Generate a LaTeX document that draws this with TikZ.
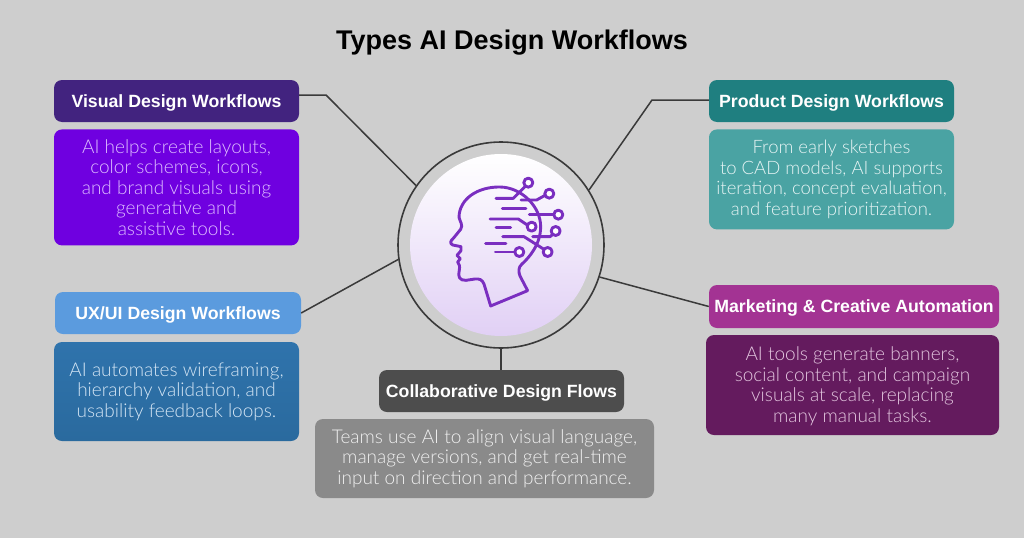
\documentclass[tikz,border=0pt]{standalone}
\usepackage{fontspec}
\usepackage{xcolor}
\setmainfont{Liberation Sans}
\newfontfamily\lightfont{Lato Light}
\usetikzlibrary{arrows.meta,positioning,calc}
\definecolor{pagegray}{HTML}{CECECE}
\definecolor{linegray}{HTML}{3A3A3A}
\definecolor{iconpurple}{HTML}{7A2EC0}
\definecolor{diskpurple}{HTML}{E1D0F5}
\definecolor{visualhead}{HTML}{42237F}
\definecolor{visualbody}{HTML}{6F00E0}
\definecolor{visualtext}{HTML}{DDBDFF}
\definecolor{producthead}{HTML}{1F7F80}
\definecolor{productbody}{HTML}{4AA3A3}
\definecolor{producttext}{HTML}{E6F4F4}
\definecolor{uxhead}{HTML}{5B9BDE}
\definecolor{uxbodytop}{HTML}{2F73AC}
\definecolor{uxbodybot}{HTML}{2A6A9E}
\definecolor{uxtext}{HTML}{D5E6F5}
\definecolor{markethead}{HTML}{A33393}
\definecolor{marketbody}{HTML}{641B5E}
\definecolor{markettext}{HTML}{E3C6DF}
\definecolor{collabhead}{HTML}{4D4D4D}
\definecolor{collabbody}{HTML}{8A8A8A}
\definecolor{collabtext}{HTML}{F0F0F0}
\begin{document}
\begin{tikzpicture}[x=1pt,y=-1pt]
\tikzset{
				headbox/.style={
					rounded corners=8pt,
					text=white,
					minimum height=42pt,
					align=center,
					inner sep=0pt,
					text height=15pt,
					text depth=2.8pt,
					font=\bfseries\fontsize{17.7}{20}\selectfont
				},
				bodybox/.style={
					rounded corners=8pt,
					align=center,
					inner sep=0pt,
					font=\lightfont\fontsize{19}{20.6}\selectfont
				},
				spoke/.style={
					draw=linegray,
					line width=1.5pt
				},
				trace/.style={
					draw=iconpurple,
					line width=2.9pt,
					line cap=round,
					line join=round
				},
				pin/.style={
					trace,
					fill=white
				}
			}
			\useasboundingbox[fill=pagegray] (0,0) rectangle (1024,538);
			\node[font=\bfseries\fontsize{27}{32}\selectfont] (title) at (512,43) {Types AI Design Workflows};
			
			\node[circle,draw=linegray,line width=1.6pt,minimum size=206pt,inner sep=0pt] (hub) at (501,245) {};
			\node[circle,minimum size=182pt,inner sep=0pt,top color=white,bottom color=diskpurple] (disk) at (hub.center) {};
			
			\node[headbox,fill=visualhead,minimum width=245pt] (visual) at (176.5,101) {Visual Design Workflows};
			\node[bodybox,fill=visualbody,text=visualtext,minimum width=245pt,minimum height=116pt,below=7pt of visual] (visualtxt) {AI helps create layouts,\\color schemes, icons,\\and brand visuals using\\generative and\\assistive tools.};
			
			\node[headbox,fill=producthead,minimum width=245pt] (product) at (831.5,101) {Product Design Workflows};
			\node[bodybox,fill=productbody,text=producttext,minimum width=245pt,minimum height=100pt,below=7pt of product,font=\lightfont\fontsize{18.5}{20.6}\selectfont] (producttxt) {From early sketches\\to CAD models, AI supports\\iteration, concept evaluation,\\and feature prioritization.};
			
			\node[headbox,fill=uxhead,minimum width=246pt] (ux) at (178,313) {UX/UI Design Workflows};
			\node[bodybox,top color=uxbodytop,bottom color=uxbodybot,text=uxtext,minimum width=245pt,minimum height=99pt] (uxtxt) at (176.5,391.5) {AI automates wireframing,\\hierarchy validation, and\\usability feedback loops.};
			
			\node[headbox,fill=markethead,minimum width=290pt,minimum height=43pt] (market) at (854,306.5) {Marketing \& Creative Automation};
			\node[bodybox,fill=marketbody,text=markettext,minimum width=293pt,minimum height=100pt,text depth=1pt] (markettxt) at (852.5,385) {AI tools generate banners,\\social content, and campaign\\visuals at scale, replacing\\many manual tasks.};
			
			\node[headbox,fill=collabhead,minimum width=245pt] (collab) at (501.5,391) {Collaborative Design Flows};
			\node[bodybox,fill=collabbody,text=collabtext,minimum width=339pt,minimum height=79pt] (collabtxt) at (484.5,458.5) {Teams use AI to align visual language,\\manage versions, and get real-time\\input on direction and performance.};
			
			\coordinate (visualbend) at (326,95);
			\coordinate (productbend) at (652,100);
			\draw[spoke] ([yshift=6pt]visual.east) -- (visualbend) -- (hub.145);
			\draw[spoke] ([yshift=1pt]product.west) -- (productbend) -- (hub.32);
			\draw[spoke] (ux.east) -- (hub.188);
			\draw[spoke] (market.west) -- (hub.-18);
			\draw[spoke] (hub.south) -- (collab.north -| hub.south);
			
			% head and circuit, in the 3x crop grid
			\begin{scope}[shift={(390,130)},x=0.3333pt,y=-0.3333pt]
			\draw[trace] (413,482) -- (302,528) -- (282,462) .. controls (276,448) and (268,446) .. (255,447) -- (228,451) .. controls (208,452) and (203,440) .. (208,420) .. controls (210,408) and (208,402) .. (203,396) -- (211,386) -- (201,376) -- (213,362) -- (213,350) -- (188,345) .. controls (178,340) and (182,332) .. (190,325) -- (212,298) .. controls (220,285) and (210,275) .. (207,262) .. controls (208,205) and (265,170) .. (330,171) .. controls (395,172) and (452,230) .. (452,290) .. controls (452,345) and (415,385) .. (395,403) .. controls (385,412) and (385,425) .. (390,438) -- (413,482);
			\draw[trace] (318,205) -- (370,205) -- (405,170);
			\draw[trace] (393,210) -- (440,210) -- (467,195);
			\draw[trace] (337,235) -- (408,235);
			\draw[trace] (418,254) -- (492,254);
			\draw[trace] (300,267) -- (385,267) -- (412,285);
			\draw[trace] (318,292) -- (362,292);
			\draw[trace] (428,320) -- (480,320) -- (490,312);
			\draw[trace] (338,320) -- (402,320) -- (462,358);
			\draw[trace] (287,341) -- (348,341);
			\draw[trace] (316,366) -- (375,366);
			\foreach \px/\py in {415/158,478/191,505/254,425/290,497/303,473/366,388/366}
				\draw[pin] (\px,\py) circle[radius=13.5];
			\end{scope}
\end{tikzpicture}
\end{document}
